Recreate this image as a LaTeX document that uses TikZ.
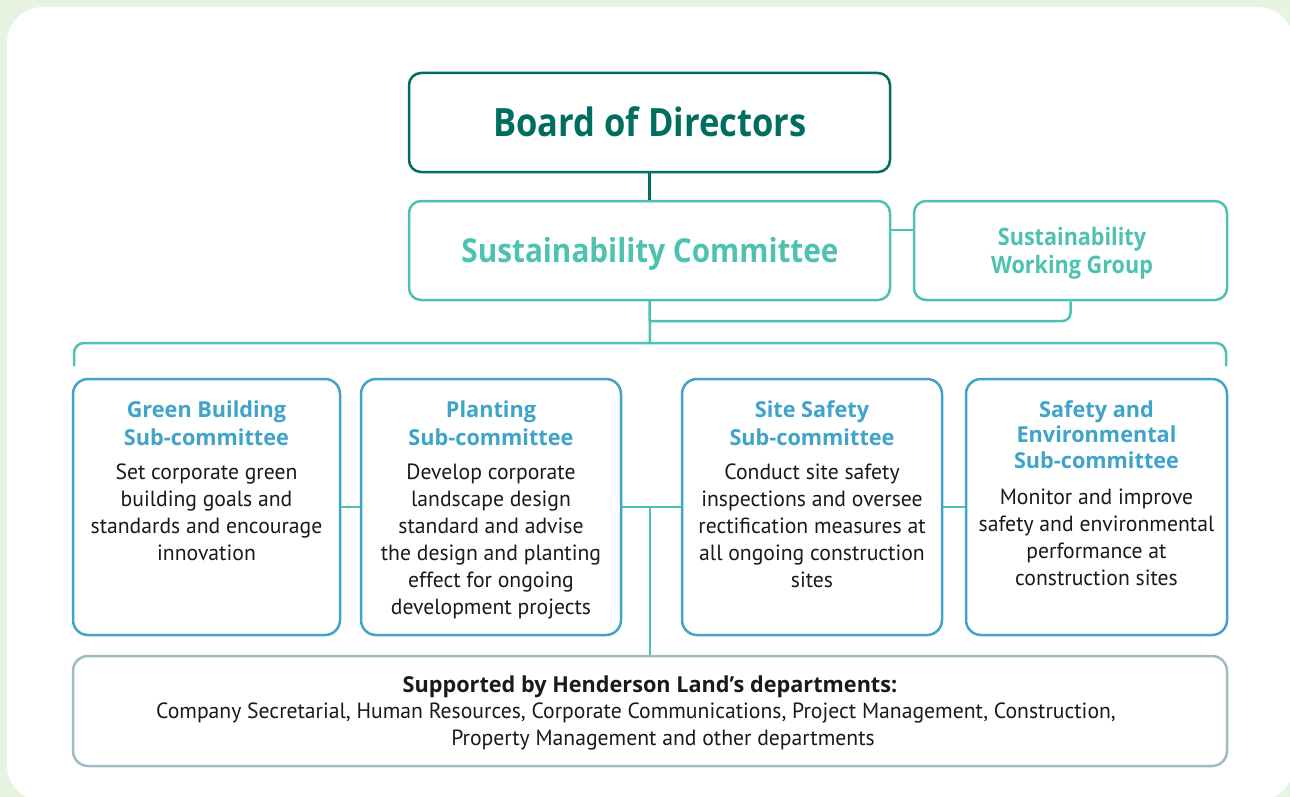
\documentclass[tikz,border=0pt]{standalone}
\usepackage{fontspec}
\setmainfont{PT Sans}
\newfontfamily\titlefont{Open Sans}[FakeStretch=0.885]
\newfontfamily\sctitlefont{Open Sans}[FakeStretch=0.9]
\newfontfamily\subtitlefont{Open Sans}[FakeStretch=0.985]
\newfontfamily\bodyfont{PT Sans}[FakeStretch=0.985]
\usetikzlibrary{calc}
\definecolor{bggreen}{HTML}{E8F4E2}
\definecolor{boardc}{HTML}{006E5F}
\definecolor{tealc}{HTML}{4DC2B1}
\definecolor{subblue}{HTML}{3FA3CA}
\definecolor{greybox}{HTML}{A0BCC2}
\definecolor{bodytext}{HTML}{1A1A1A}
\tikzset{
  box/.style={draw, rounded corners=12pt, line width=2.5pt, inner sep=0pt, fill=white},
  boardbox/.style={box, draw=boardc},
  tealbox/.style={box, draw=tealc},
  subbox/.style={box, draw=subblue, rounded corners=15pt},
  supbox/.style={box, draw=greybox, rounded corners=15pt},
  boardline/.style={draw=boardc, line width=2.5pt},
  tealline/.style={draw=tealc, line width=2.5pt},
  thinline/.style={draw=tealc, line width=2pt},
  ttl/.style={font=\subtitlefont\bfseries\fontsize{22}{28}\selectfont, text=subblue, align=center, inner sep=0pt, anchor=base},
  body/.style={font=\bodyfont\fontsize{22}{27}\selectfont, text=bodytext, align=center, inner sep=0pt, anchor=base},
}
\begin{document}
\begin{tikzpicture}[x=1pt, y=-1pt]
\useasboundingbox (0,0) rectangle (1290,797);
\fill[bggreen] (0,0) rectangle (1290,797);
\fill[white, rounded corners=36pt] (7,7) rectangle (1294,801);

% boxes
\node[boardbox, minimum width=481pt, minimum height=99pt] (board) at (649.5,122.5) {};
\node[tealbox, minimum width=481pt, minimum height=99pt] (sc) at (649.5,250.5) {};
\node[tealbox, minimum width=313pt, minimum height=99pt] (wg) at (1070.5,250.5) {};
\node[subbox, minimum width=267pt, minimum height=256pt] (gb) at (206.5,507) {};
\node[subbox, minimum width=260pt, minimum height=256pt] (pl) at (491,507) {};
\node[subbox, minimum width=260pt, minimum height=256pt] (ss) at (812,507) {};
\node[subbox, minimum width=261pt, minimum height=256pt] (se) at (1096.5,507) {};
\node[supbox, minimum width=1154pt, minimum height=110pt] (sup) at (650,711) {};

% connectors
\coordinate (j1) at (650,321);
\coordinate (bar) at (650,343);
\coordinate (barL) at (74,366);
\coordinate (barR) at (1226,366);
\coordinate (mid) at (650,507);
\draw[boardline] (board.south) -- (sc.north);
\draw[tealline] ($(sc.north east)!0.3!(sc.south east)$) -- ($(wg.north west)!0.3!(wg.south west)$);
\draw[tealline, rounded corners=8pt] (wg.south) |- (j1);
\draw[tealline] (sc.south) -- (bar);
\draw[tealline, rounded corners=10pt] (barL) |- (bar) -| (barR);
\draw[thinline] (gb.east) -- (pl.west);
\draw[thinline] (pl.east) -- (ss.west);
\draw[thinline] (ss.east) -- (se.west);
\draw[thinline] (mid) -- (sup.north);

% texts (anchor=base is the baseline of the last line)
\node[ttl, text=boardc, font=\titlefont\bfseries\fontsize{39}{44}\selectfont] (boardt) at (650,136) {Board of Directors};
\node[ttl, text=tealc, font=\sctitlefont\bfseries\fontsize{33}{38}\selectfont] (sct) at (650,262) {Sustainability Committee};
\node[ttl, text=tealc, font=\sctitlefont\bfseries\fontsize{24}{28}\selectfont] (wgt) at (1072,273) {Sustainability\\Working Group};

\node[ttl] (gbt) at (206.5,445) {Green Building\\Sub-committee};
\node[body] (gbb) at (206.5,560) {Set corporate green\\building goals and\\standards and encourage\\innovation};

\node[ttl] (plt) at (491,445) {Planting\\Sub-committee};
\node[body] (plb) at (491,614) {Develop corporate\\landscape design\\standard and advise\\the design and planting\\effect for ongoing\\development projects};

\node[ttl] (sst) at (812,445) {Site Safety\\Sub-committee};
\node[body] (ssb) at (812,587) {Conduct site safety\\inspections and oversee\\rectification measures at\\all ongoing construction\\sites};

\node[ttl, font=\subtitlefont\bfseries\fontsize{22}{25.5}\selectfont] (set) at (1096.5,468) {Safety and\\Environmental\\Sub-committee};
\node[body] (seb) at (1096.5,585) {Monitor and improve\\safety and environmental\\performance at\\construction sites};

\node[ttl, text=bodytext, font=\subtitlefont\bfseries\fontsize{22}{27}\selectfont] (supt) at (650,692) {Supported by Henderson Land’s departments:};
\node[body] (supb1) at (636,718) {Company Secretarial, Human Resources, Corporate Communications, Project Management, Construction,};
\node[body] (supb2) at (663,745) {Property Management and other departments};
\end{tikzpicture}
\end{document}
